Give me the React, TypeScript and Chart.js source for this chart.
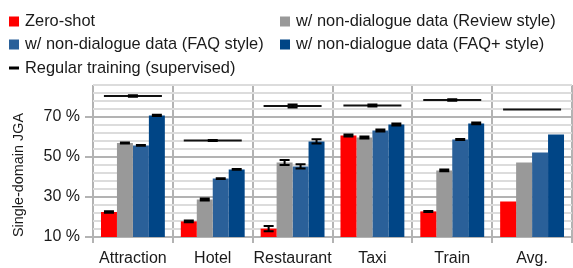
import React, { useEffect, useRef } from "react";
import { Chart, registerables } from "chart.js";

Chart.register(...registerables);

const categories = ["Attraction", "Hotel", "Restaurant", "Taxi", "Train", "Avg."];
const seriesNames = [
  "Zero-shot",
  "w/ non-dialogue data (Review style)",
  "w/ non-dialogue data (FAQ style)",
  "w/ non-dialogue data (FAQ+ style)",
  "Regular training (supervised)",
];
const zeroShot = [22.5, 17.8, 14.2, 60.8, 22.8, 27.8];
const reviewStyle = [57.0, 28.8, 47.2, 59.8, 43.3, 47.3];
const faqStyle = [55.8, 39.2, 45.3, 63.3, 58.8, 52.3];
const faqPlusStyle = [70.8, 43.8, 57.8, 66.3, 66.8, 61.3];
const regularTraining = [80.5, 58.3, 75.5, 75.8, 78.5, 73.8];

const zeroShotErr = [0.42, 0.42, 1.33, 0.5, 0.25, null];
const reviewErr = [0.25, 0.5, 1.25, 0.5, 0.42, null];
const faqErr = [0.17, 0.17, 1.08, 0.5, 0.25, null];
const faqPlusErr = [0.33, 0.17, 1.08, 0.5, 0.42, null];
const regularErr = [0.42, 0.25, 0.75, 0.5, 0.42, null];

const yTickValues = [10, 30, 50, 70];

const FONT = "'Liberation Sans', Arial, sans-serif";
const TEXT = "#1a1a1a";

const errorBarPlugin = {
  id: "errorBars",
  afterDatasetsDraw(chart: any) {
    const ctx = chart.ctx;
    const yScale = chart.scales.y;
    ctx.save();
    ctx.strokeStyle = "#000";
    ctx.lineWidth = 2;
    chart.data.datasets.forEach((ds: any, i: number) => {
      const errs = ds.errors;
      if (!errs) return;
      const meta = chart.getDatasetMeta(i);
      meta.data.forEach((el: any, j: number) => {
        const e = errs[j];
        if (e == null) return;
        const v = ds.data[j];
        const x = el.x;
        const yTop = yScale.getPixelForValue(v + e);
        const yBot = yScale.getPixelForValue(v - e);
        const hw = 5;
        ctx.beginPath();
        ctx.moveTo(x, yTop);
        ctx.lineTo(x, yBot);
        ctx.moveTo(x - hw, yTop);
        ctx.lineTo(x + hw, yTop);
        ctx.moveTo(x - hw, yBot);
        ctx.lineTo(x + hw, yBot);
        ctx.stroke();
      });
    });
    ctx.restore();
  },
};

const gridLegendPlugin = {
  id: "gridLegend",
  afterDraw(chart: any, _args: any, opts: any) {
    const ctx = chart.ctx;
    const cols: number[] = opts.cols;
    const rows: number[] = opts.rows;
    ctx.save();
    ctx.font = `${opts.fontSize}px ${FONT}`;
    ctx.textBaseline = "middle";
    ctx.textAlign = "left";
    chart.data.datasets.forEach((ds: any, i: number) => {
      const x = cols[i % 2];
      const y = rows[Math.floor(i / 2)];
      if (ds.type === "line") {
        ctx.strokeStyle = "#000";
        ctx.lineWidth = 3;
        ctx.beginPath();
        ctx.moveTo(x, y);
        ctx.lineTo(x + 10, y);
        ctx.stroke();
      } else {
        ctx.fillStyle = ds.backgroundColor;
        ctx.fillRect(x, y - 5, 10, 10);
      }
      ctx.fillStyle = TEXT;
      ctx.fillText(ds.label, x + 16, y);
    });
    ctx.restore();
  },
};

export default function App() {
  const ref = useRef<HTMLCanvasElement | null>(null);
  useEffect(() => {
    if (!ref.current) return;
    const chart = new Chart(ref.current, {
      type: "bar",
      data: {
        labels: categories,
        datasets: [
          { label: seriesNames[0], data: zeroShot, backgroundColor: "#ff0000", errors: zeroShotErr } as any,
          { label: seriesNames[1], data: reviewStyle, backgroundColor: "#999999", errors: reviewErr } as any,
          { label: seriesNames[2], data: faqStyle, backgroundColor: "#2a6099", errors: faqErr } as any,
          { label: seriesNames[3], data: faqPlusStyle, backgroundColor: "#004586", errors: faqPlusErr } as any,
          {
            type: "line",
            label: seriesNames[4],
            data: regularTraining,
            showLine: false,
            pointStyle: "line",
            pointRadius: 29,
            pointHoverRadius: 29,
            pointBorderWidth: 2,
            pointBorderColor: "#111",
            borderColor: "#111",
            backgroundColor: "#111",
            errors: regularErr,
          } as any,
        ],
      },
      options: {
        animation: false,
        responsive: false,
        events: [],
        layout: { autoPadding: false, padding: { top: 85, left: 0, right: 1, bottom: 0 } },
        datasets: { bar: { categoryPercentage: 0.8, barPercentage: 1.0 } },
        plugins: {
          legend: { display: false },
          tooltip: { enabled: false },
          gridLegend: { cols: [9, 280], rows: [21.5, 44.5, 68], fontSize: 16.4 },
        } as any,
        scales: {
          x: {
            grid: { color: "#b3b3b3", lineWidth: 2, tickLength: 6, offset: true },
            border: { display: false },
            ticks: {
              font: { family: FONT, size: 16 },
              color: TEXT,
              padding: 6,
              maxRotation: 0,
              minRotation: 0,
              autoSkip: false,
            },
            afterFit: (s: any) => {
              s.height = 31;
              s.paddingLeft = 0;
              s.paddingRight = 0;
            },
          },
          y: {
            min: 10,
            max: 86,
            border: { display: false },
            grid: {
              color: (c: any) => (yTickValues.includes(Math.round(c.tick.value)) ? "#b3b3b3" : "#dcdcdc"),
              tickColor: (c: any) => (yTickValues.includes(Math.round(c.tick.value)) ? "#b3b3b3" : "rgba(0,0,0,0)"),
              lineWidth: 2,
              tickLength: 8,
            },
            ticks: {
              stepSize: 4,
              autoSkip: false,
              font: { family: FONT, size: 16 },
              color: TEXT,
              padding: 5,
              callback: (v: any) => (yTickValues.includes(Math.round(Number(v))) ? `${Math.round(Number(v))} %` : ""),
            },
            title: {
              display: true,
              text: "Single-domain JGA",
              font: { family: FONT, size: 14.4 },
              color: TEXT,
              align: "start",
              padding: { top: 10, bottom: 0 },
            },
            afterFit: (s: any) => {
              s.width = 93;
            },
          },
        },
      },
      plugins: [errorBarPlugin, gridLegendPlugin],
    } as any);
    return () => chart.destroy();
  }, []);
  return (
    <div style={{ position: "fixed", left: 0, top: 0, width: 573, height: 268, background: "#fff" }}>
      <canvas ref={ref} width={573} height={268} style={{ display: "block" }} />
    </div>
  );
}
